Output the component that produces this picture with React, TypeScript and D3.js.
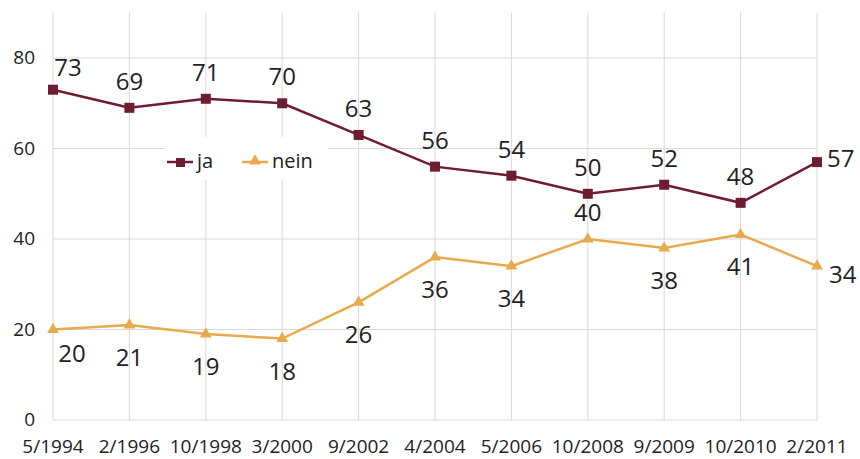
import React from "react";
import * as d3 from "d3";

const categories = ["5/1994", "2/1996", "10/1998", "3/2000", "9/2002", "4/2004", "5/2006", "10/2008", "9/2009", "10/2010", "2/2011"];
const jaValues = [73, 69, 71, 70, 63, 56, 54, 50, 52, 48, 57];
const neinValues = [20, 21, 19, 18, 26, 36, 34, 40, 38, 41, 34];
const yTicks = [0, 20, 40, 60, 80];
const jaLabelPos = ["rightAbove", "above", "above", "above", "above", "above", "above", "above", "above", "above", "right"];
const neinLabelPos = ["rightBelow", "below", "below", "below", "below", "below", "below", "above", "below", "below", "rightLow"];

const W = 860;
const H = 459;
const JA = "#6e1c30";
const NEIN = "#e8aa4c";
const GRID = "#d9d9d9";
const FONT = "'Open Sans', 'Noto Sans', sans-serif";

function labelXY(pos: string, x: number, y: number): [number, number, string] {
  switch (pos) {
    case "rightAbove": return [x + 15, y - 14, "middle"];
    case "right": return [x + 10, y + 5, "start"];
    case "rightBelow": return [x + 19, y + 32, "middle"];
    case "rightLow": return [x + 12, y + 17, "start"];
    case "below": return [x, y + 41, "middle"];
    default: return [x, y - 18, "middle"];
  }
}

export default function App() {
  const x = d3.scalePoint<string>().domain(categories).range([53, 817]);
  const y = d3.scaleLinear().domain([0, 90]).range([420, 12.8]);
  const line = d3.line<number>().x((_, i) => x(categories[i])!).y((d) => y(d));

  const tri = d3.symbol().type(d3.symbolTriangle).size(60)()!;

  return (
    <svg width={W} height={H} style={{ position: "absolute", left: 0, top: 0, background: "#fff" }} fontFamily={FONT}>
      {categories.map((c) => (
        <line key={"v" + c} x1={x(c)} x2={x(c)} y1={y(90)} y2={y(0)} stroke={GRID} strokeWidth={1} />
      ))}
      {yTicks.map((t) => (
        <line key={"h" + t} x1={53} x2={817} y1={y(t)} y2={y(t)} stroke={GRID} strokeWidth={1} />
      ))}
      {yTicks.map((t) => (
        <text key={"yt" + t} x={35} y={y(t) + 6} textAnchor="end" fontSize={19} fill="#222">{t}</text>
      ))}
      {categories.map((c) => (
        <text key={"xt" + c} x={x(c)} y={453} textAnchor="middle" fontSize={19} fill="#222">{c}</text>
      ))}

      <rect x={165} y={137} width={163} height={43} fill="#fff" />
      <line x1={167} x2={193} y1={162} y2={162} stroke={JA} strokeWidth={2.5} />
      <rect x={176} y={158} width={9} height={9} fill={JA} />
      <text x={197} y={168} fontSize={20} fill="#222">ja</text>
      <line x1={242} x2={268} y1={162} y2={162} stroke={NEIN} strokeWidth={2.5} />
      <path d={tri} transform={`translate(255,161)`} fill={NEIN} />
      <text x={272} y={168} fontSize={20} fill="#222">nein</text>

      <path d={line(neinValues)!} fill="none" stroke={NEIN} strokeWidth={2.5} />
      <path d={line(jaValues)!} fill="none" stroke={JA} strokeWidth={2.5} />
      {neinValues.map((v, i) => (
        <path key={"nm" + i} d={tri} transform={`translate(${x(categories[i])},${y(v)})`} fill={NEIN} />
      ))}
      {jaValues.map((v, i) => (
        <rect key={"jm" + i} x={x(categories[i])! - 5} y={y(v) - 5} width={10} height={10} fill={JA} />
      ))}

      {jaValues.map((v, i) => {
        const [lx, ly, a] = labelXY(jaLabelPos[i], x(categories[i])!, y(v));
        return <text key={"jl" + i} x={lx} y={ly} textAnchor={a as any} fontSize={24} fill="#222">{v}</text>;
      })}
      {neinValues.map((v, i) => {
        const [lx, ly, a] = labelXY(neinLabelPos[i], x(categories[i])!, y(v));
        return <text key={"nl" + i} x={lx} y={ly} textAnchor={a as any} fontSize={24} fill="#222">{v}</text>;
      })}
    </svg>
  );
}
